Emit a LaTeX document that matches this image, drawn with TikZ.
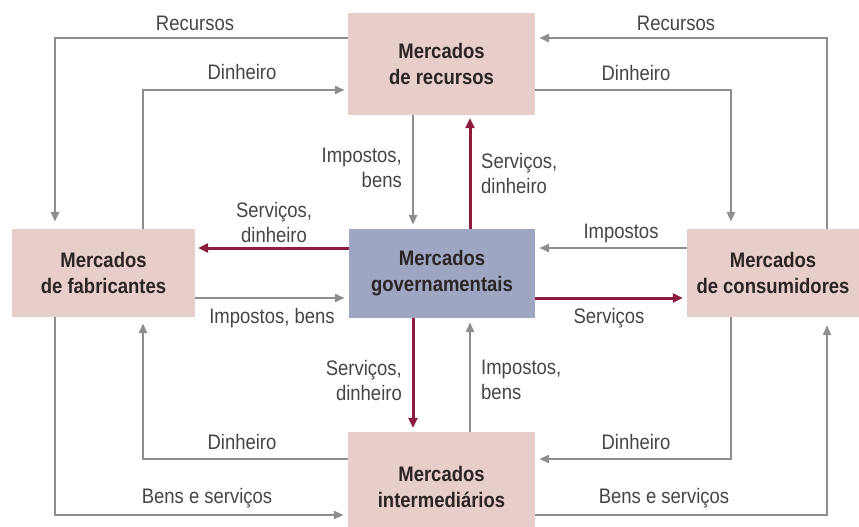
\documentclass[tikz,border=0pt]{standalone}
\usepackage{fontspec}
\setmainfont[FakeStretch=0.88]{Liberation Sans}
\usetikzlibrary{arrows.meta}
\definecolor{boxpink}{HTML}{E8CECA}
\definecolor{boxblue}{HTML}{9EA6C2}
\definecolor{flowgray}{HTML}{8E8E8E}
\definecolor{flowred}{HTML}{8C1C3E}
\definecolor{labtxt}{HTML}{474444}
\definecolor{boxtxt}{HTML}{2B2424}
\begin{document}
\begin{tikzpicture}[x=1pt,y=-1pt,
  mkt/.style={draw=none,fill=boxpink,inner sep=0pt,text=boxtxt,align=center,
    font=\fontsize{21}{26}\selectfont\bfseries},
  gflow/.style={draw=flowgray,line width=2.7pt,-{Triangle[length=10pt,width=8pt]},shorten >=4pt},
  rflow/.style={draw=flowred,line width=3pt,-{Triangle[length=10pt,width=9pt]},shorten >=4pt},
  lab/.style={text=labtxt,inner sep=0pt,font=\fontsize{21}{25}\selectfont}]
\useasboundingbox (0,0) rectangle (859,527);
% boxes
\node[mkt,minimum width=187pt,minimum height=102pt] (res) at (441.5,64) {Mercados\\de recursos};
\node[mkt,fill=boxblue,minimum width=186pt,minimum height=89pt] (gov) at (442,273.5) {Mercados\\governamentais};
\node[mkt,minimum width=183pt,minimum height=88pt] (fab) at (103.5,273) {Mercados\\de fabricantes};
\node[mkt,minimum width=172pt,minimum height=88pt] (con) at (773,273) {Mercados\\de consumidores};
\node[mkt,minimum width=187pt,minimum height=95pt] (int) at (441.5,479.5) {};
\node[mkt,fill=none] (inttext) at (441.5,487) {Mercados\\intermediários};
% lanes
\coordinate (xA) at (55,0);
\coordinate (xB) at (143,0);
\coordinate (xC) at (413,0);
\coordinate (xD) at (470,0);
\coordinate (xE) at (731,0);
\coordinate (xF) at (827,0);
\coordinate (y1) at (0,38);
\coordinate (y2) at (0,90);
\coordinate (y3) at (0,248);
\coordinate (y4) at (0,298);
\coordinate (y5) at (0,459);
\coordinate (y6) at (0,515);
% outer flows
\draw[gflow,shorten >=7pt] (res.west |- y1) -| (xA |- fab.north);
\draw[gflow,shorten >=3pt] (xB |- fab.north) |- (res.west |- y2);
\draw[gflow] (xF |- con.north) |- (res.east |- y1);
\draw[gflow,shorten >=7pt] (res.east |- y2) -| (xE |- con.north);
\draw[gflow,shorten >=6pt] (int.west |- y5) -| (xB |- fab.south);
\draw[gflow] (xA |- fab.south) |- (int.west |- y6);
\draw[gflow] (xE |- con.south) |- (int.east |- y5);
\draw[gflow,shorten >=8pt] (int.east |- y6) -| (xF |- con.south);
% inner flows
\draw[gflow] (xC |- res.south) -- (xC |- gov.north);
\draw[rflow,shorten >=3pt] (xD |- gov.north) -- (xD |- res.south);
\draw[rflow,shorten >=3pt] (gov.west |- y3) -- (fab.east |- y3);
\draw[gflow] (con.west |- y3) -- (gov.east |- y3);
\draw[gflow] (fab.east |- y4) -- (gov.west |- y4);
\draw[rflow] (gov.east |- y4) -- (con.west |- y4);
\draw[rflow] (xC |- gov.south) -- (xC |- int.north);
\draw[gflow] (xD |- int.north) -- (xD |- gov.south);
% labels
\node[lab] (l1) at (195,23) {Recursos};
\node[lab] (l2) at (242,72) {Dinheiro};
\node[lab] (l3) at (676,23) {Recursos};
\node[lab] (l4) at (636,73) {Dinheiro};
\node[lab,anchor=east,align=right] (l5) at (402,168) {Impostos,\\bens};
\node[lab,anchor=west,align=left] (l6) at (481,173) {Serviços,\\dinheiro};
\node[lab,align=center] (l7) at (274,222) {Serviços,\\dinheiro};
\node[lab] (l8) at (621,233) {Impostos};
\node[lab] (l9) at (272,318) {Impostos, bens};
\node[lab] (l10) at (609,318) {Serviços};
\node[lab,anchor=east,align=right] (l11) at (402,380) {Serviços,\\dinheiro};
\node[lab,anchor=west,align=left] (l12) at (481,380) {Impostos,\\bens};
\node[lab] (l13) at (242,442) {Dinheiro};
\node[lab] (l14) at (207,498) {Bens e serviços};
\node[lab] (l15) at (636,442) {Dinheiro};
\node[lab] (l16) at (664,498) {Bens e serviços};
\end{tikzpicture}
\end{document}
